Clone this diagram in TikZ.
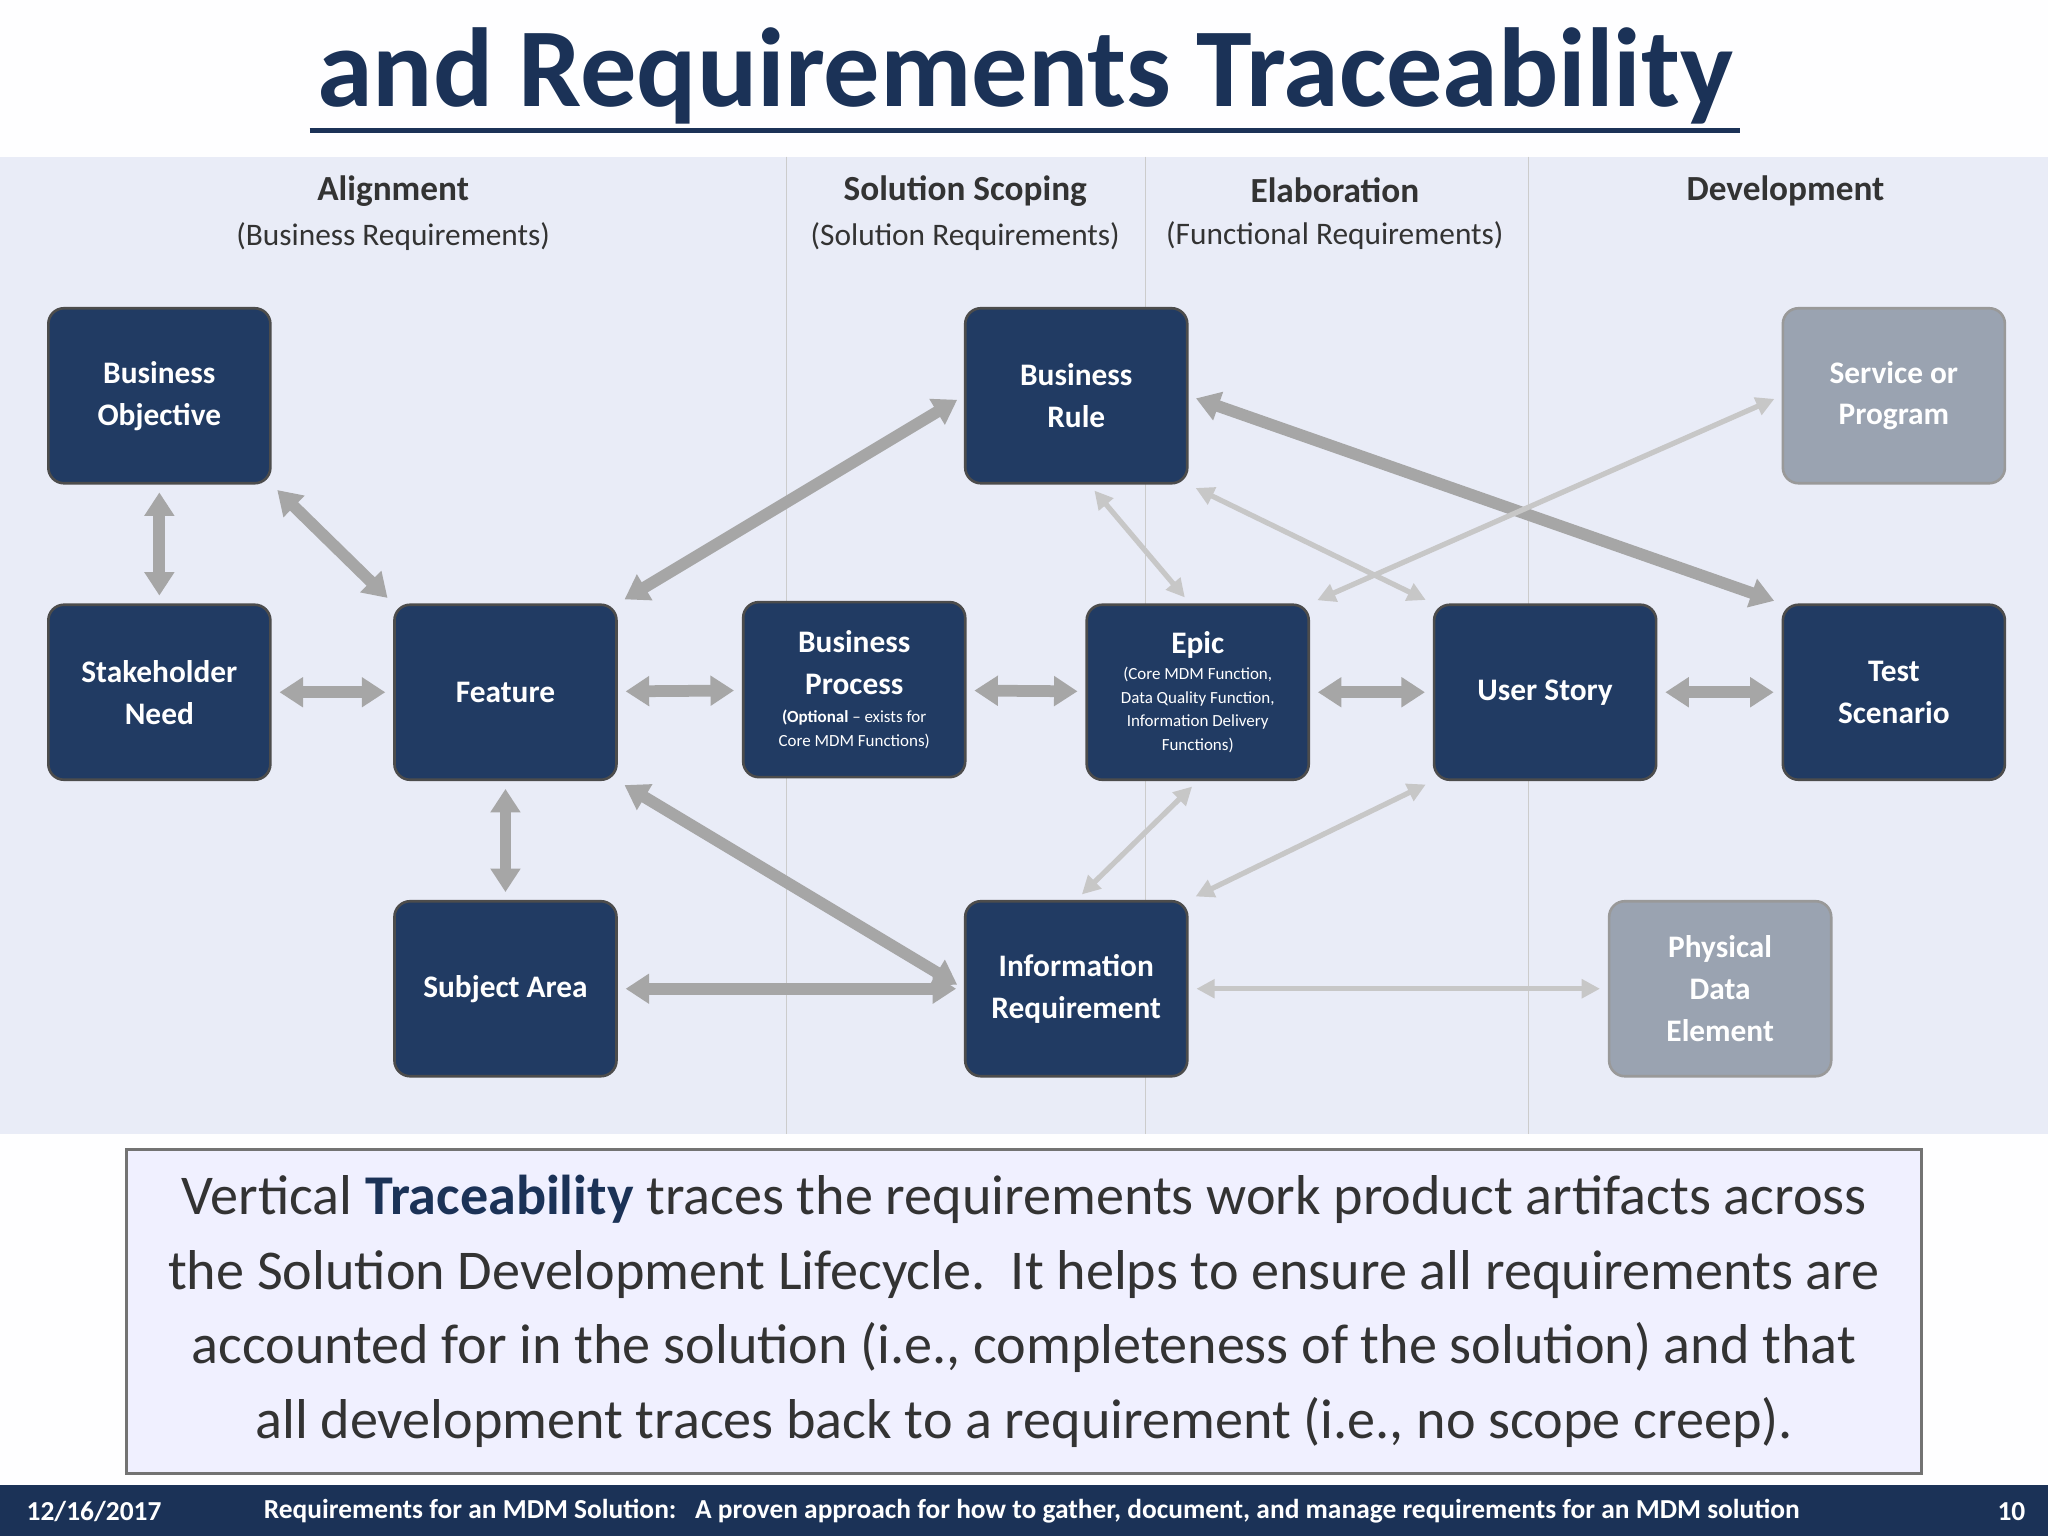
\documentclass[tikz,border=0pt]{standalone}
\usepackage{fontspec}
\setmainfont{Carlito}
\usetikzlibrary{arrows.meta}
\definecolor{navy}{HTML}{1B3257}
\definecolor{boxc}{HTML}{213B63}
\definecolor{grayb}{HTML}{9AA3B1}
\definecolor{panel}{HTML}{E9ECF7}
\newcommand{\sm}{\fontsize{6.5}{8}\selectfont\mdseries}
\begin{document}
\begin{tikzpicture}[x=0.5pt,y=-0.5pt,
 bx/.style={draw=black!70,line width=1pt,rounded corners=6pt,fill=boxc,text=white,minimum width=85pt,minimum height=67pt,align=center,font=\fontsize{12}{16}\selectfont\bfseries},
 gbx/.style={bx,fill=grayb,draw=black!40},
 hd/.style={font=\fontsize{13.5}{15}\selectfont\bfseries,text=black!80},
 sub/.style={font=\fontsize{12}{13}\selectfont,text=black!80},
 ar/.style={draw=black!35,line width=4.5pt,{Triangle[length=9pt,width=11pt]}-{Triangle[length=9pt,width=11pt]},shorten <=3pt,shorten >=3pt},
 tar/.style={draw=black!22,line width=2pt,{Triangle[length=7pt,width=7pt]}-{Triangle[length=7pt,width=7pt]},shorten <=3pt,shorten >=3pt}]
\useasboundingbox (0,0) rectangle (1568,1176);
\fill[white!93!blue!3] (0,0) rectangle (1568,1176);
\node[font=\fontsize{43}{48}\selectfont\bfseries,text=navy] (title) at (785,58) {and Requirements Traceability};
\draw[navy,line width=2pt] (237,100) -- (1332,100);
\fill[panel] (0,120) rectangle (1568,868);
\foreach \x in {602,877,1170} \draw[black!20] (\x,120) -- (\x,868);
\node[hd] (h1) at (301,146) {Alignment};
\node[sub] (s1) at (301,181) {(Business Requirements)};
\node[hd] (h2) at (739,146) {Solution Scoping};
\node[sub] (s2) at (739,181) {(Solution Requirements)};
\node[hd] (h3) at (1022,146) {Elaboration};
\node[sub] (s3) at (1022,180) {(Functional Requirements)};
\node[hd] (h4) at (1367,146) {Development};
\node[bx] (bo) at (122,303) {Business\\Objective};
\node[bx] (sn) at (122,530) {Stakeholder\\Need};
\node[bx] (fe) at (387,530) {Feature};
\node[bx] (sa) at (387,757) {Subject Area};
\node[bx] (br) at (824,303) {Business\\Rule};
\node[bx] (bp) at (654,528) {Business\\Process\\[-5pt]\sm\textbf{(Optional} -- exists for\\[-7pt]\sm Core MDM Functions)};
\node[bx] (ep) at (917,530) {Epic\\[-6pt]\sm (Core MDM Function,\\[-7pt]\sm Data Quality Function,\\[-7pt]\sm Information Delivery\\[-7pt]\sm Functions)};
\node[bx] (ir) at (824,757) {Information\\Requirement};
\node[bx] (us) at (1183,530) {User Story};
\node[bx] (ts) at (1450,530) {Test\\Scenario};
\node[gbx] (sp) at (1450,303) {Service or\\Program};
\node[gbx] (pd) at (1317,757) {Physical\\Data\\Element};
\draw[ar] (bo) -- (sn);
\draw[ar] (bo.south east) -- (fe.north west);
\draw[ar] (sn) -- (fe);
\draw[ar] (fe.north east) -- (br.west);
\draw[ar] (fe) -- (bp);
\draw[ar] (fe) -- (sa);
\draw[ar] (fe.south east) -- (ir.west);
\draw[ar] (sa) -- (ir);
\draw[ar] (bp) -- (ep);
\draw[ar] (ep) -- (us);
\draw[ar] (us) -- (ts);
\draw[ar] (br.east) -- (ts.north west);
\draw[tar] ([xshift=5pt]br.south) -- ([xshift=-3pt]ep.north);
\draw[tar] (br.south east) -- (us.north west);
\draw[tar] (ep.north east) -- (sp.west);
\draw[tar] (ep.south) -- (ir.north);
\draw[tar] (ir.north east) -- (us.south west);
\draw[tar] (ir) -- (pd);
\node[draw=black!55,line width=1pt,fill=blue!6,minimum width=687pt,minimum height=124pt,align=center,font=\fontsize{21.5}{28.5}\selectfont,text=black!80] (txt) at (784,1004) {Vertical \textbf{\color{navy}Traceability} traces the requirements work product artifacts across\\the Solution Development Lifecycle.\ \ It helps to ensure all requirements are\\accounted for in the solution (i.e., completeness of the solution) and that\\all development traces back to a requirement (i.e., no scope creep).};
\fill[navy] (0,1137) rectangle (1568,1176);
\node[text=white,font=\fontsize{10.5}{11}\selectfont\bfseries] (d) at (72,1157) {12/16/2017};
\node[text=white,font=\fontsize{10.5}{11}\selectfont\bfseries] (f) at (790,1157) {Requirements for an MDM Solution:\ \ \ A proven approach for how to gather, document, and manage requirements for an MDM solution};
\node[text=white,font=\fontsize{10.5}{11}\selectfont\bfseries] (n) at (1540,1157) {10};
\end{tikzpicture}
\end{document}
